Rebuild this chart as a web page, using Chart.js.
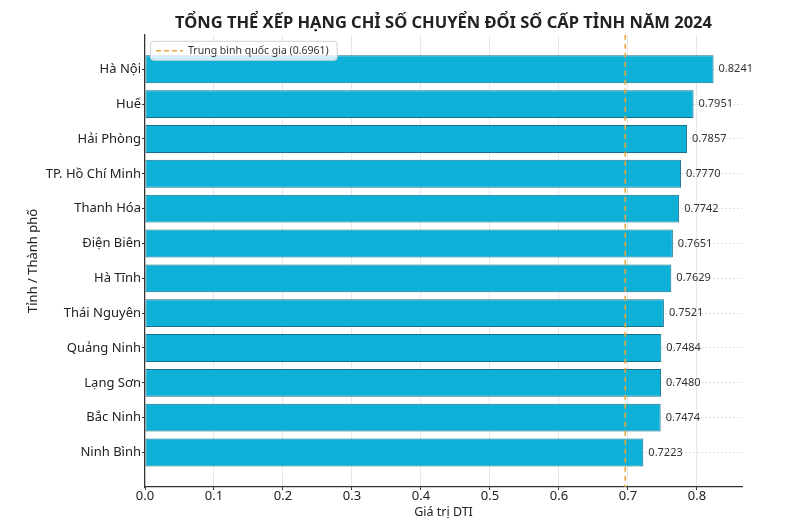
<!DOCTYPE html>
<html>
<head>
<meta charset="utf-8">
<title>DTI 2024</title>
<script src="https://cdn.jsdelivr.net/npm/chart.js@4.4.1/dist/chart.umd.min.js"></script>
<style>
  html, body { margin: 0; padding: 0; background: #fff; }
  #wrap { width: 790px; height: 527px; }
</style>
</head>
<body>
<div id="wrap"><canvas id="dtiChart"></canvas></div>
<script>
// Dữ liệu
const provinces = [
  "Hà Nội", "Huế", "Hải Phòng", "TP. Hồ Chí Minh", "Thanh Hóa", "Điện Biên",
  "Hà Tĩnh", "Thái Nguyên", "Quảng Ninh", "Lạng Sơn", "Bắc Ninh", "Ninh Bình"
];
const dtiValues = [
  0.8241, 0.7951, 0.7857, 0.7770, 0.7742, 0.7651,
  0.7629, 0.7521, 0.7484, 0.7480, 0.7474, 0.7223
];
const nationalAvg = 0.6961;
const xTicks = [0.0, 0.1, 0.2, 0.3, 0.4, 0.5, 0.6, 0.7, 0.8];

const FONT = "'Noto Sans', 'DejaVu Sans', sans-serif";
const avgLabel = "Trung bình quốc gia (" + nationalAvg.toFixed(4) + ")";

// Giá trị bên phải mỗi thanh (dataset 1 = thanh)
const valueLabels = {
  id: "valueLabels",
  afterDatasetsDraw(chart) {
    const ctx = chart.ctx;
    const meta = chart.getDatasetMeta(1);
    ctx.save();
    ctx.font = "11px " + FONT;
    ctx.fillStyle = "#333";
    ctx.textAlign = "left";
    ctx.textBaseline = "middle";
    meta.data.forEach((bar, i) => {
      ctx.fillText(dtiValues[i].toFixed(4), bar.x + 5, bar.y);
    });
    ctx.restore();
  }
};

// Chú thích trong vùng vẽ (góc trên trái)
const insideLegend = {
  id: "insideLegend",
  afterDraw(chart) {
    const ctx = chart.ctx;
    const area = chart.chartArea;
    const x = area.left + 5, y = area.top + 6, h = 19;
    ctx.save();
    ctx.font = "10.5px " + FONT;
    const w = 40 + ctx.measureText(avgLabel).width + 6;
    ctx.fillStyle = "rgba(255,255,255,0.8)";
    ctx.strokeStyle = "#d0d0d0";
    ctx.lineWidth = 1;
    ctx.beginPath();
    ctx.roundRect(x + 0.5, y + 0.5, w, h, 3);
    ctx.fill();
    ctx.stroke();
    ctx.strokeStyle = "#eba83a";
    ctx.lineWidth = 1.6;
    ctx.setLineDash([5, 3]);
    ctx.beginPath();
    ctx.moveTo(x + 6, y + h / 2 + 0.5);
    ctx.lineTo(x + 33, y + h / 2 + 0.5);
    ctx.stroke();
    ctx.setLineDash([]);
    ctx.fillStyle = "#333";
    ctx.textBaseline = "middle";
    ctx.fillText(avgLabel, x + 38, y + h / 2 + 1);
    ctx.restore();
  }
};

const config = {
  data: {
    datasets: [
      {
        type: "line",
        label: avgLabel,
        data: [{ x: nationalAvg, y: -0.99 }, { x: nationalAvg, y: 11.99 }],
        borderColor: "#eba83a",
        borderWidth: 1.6,
        borderDash: [5, 4],
        pointRadius: 0,
        order: 0
      },
      {
        type: "bar",
        label: "DTI",
        data: dtiValues.map((v, i) => ({ x: v, y: i })),
        backgroundColor: "#0db1d8",
        borderColor: "#14708c",
        borderWidth: 1,
        borderSkipped: false,
        barPercentage: 0.8,
        categoryPercentage: 1.0,
        order: 1
      }
    ]
  },
  options: {
    indexAxis: "y",
    responsive: true,
    maintainAspectRatio: false,
    animation: false,
    layout: { padding: { left: 0, right: 48, top: 0, bottom: 0 } },
    scales: {
      x: {
        type: "linear",
        min: 0,
        max: 0.8653,
        offset: false,
        afterBuildTicks(scale) {
          scale.ticks = xTicks.map((v) => ({ value: v }));
        },
        afterFit(scale) {
          scale.height = 40;
        },
        ticks: {
          callback: (v) => Number(v).toFixed(1),
          font: { family: FONT, size: 13 },
          color: "#222",
          padding: -2,
          maxRotation: 0
        },
        grid: {
          offset: false,
          color: "#e8e8e8",
          tickColor: "#333",
          tickLength: 3
        },
        border: { color: "#333", width: 1.2 },
        title: {
          display: true,
          text: "Giá trị DTI",
          font: { family: FONT, size: 12.5 },
          color: "#222",
          padding: { top: 0, bottom: 7 }
        }
      },
      y: {
        type: "linear",
        min: -0.99,
        max: 11.99,
        reverse: true,
        offset: false,
        afterBuildTicks(scale) {
          scale.ticks = provinces.map((p, i) => ({ value: i }));
        },
        afterFit(scale) {
          scale.width = 145;
        },
        ticks: {
          callback: (v) => provinces[v],
          font: { family: FONT, size: 13 },
          color: "#222",
          padding: 1
        },
        grid: {
          offset: false,
          color: "#dcdcdc",
          tickColor: "#333",
          tickLength: 3
        },
        border: { color: "#333", width: 1.2, dash: [2, 2] },
        title: {
          display: true,
          text: "Tỉnh / Thành phố",
          font: { family: FONT, size: 13 },
          color: "#222",
          padding: { top: 25, bottom: 0 }
        }
      }
    },
    plugins: {
      legend: { display: false },
      tooltip: { enabled: false },
      title: {
        display: true,
        fullSize: false,
        text: "TỔNG THỂ XẾP HẠNG CHỈ SỐ CHUYỂN ĐỔI SỐ CẤP TỈNH NĂM 2024",
        font: { family: FONT, size: 16.5, weight: "bold" },
        color: "#222",
        padding: { top: 13, bottom: 2 }
      }
    }
  },
  plugins: [valueLabels, insideLegend]
};

const dtiChart = new Chart(document.getElementById("dtiChart"), config);
</script>
</body>
</html>
